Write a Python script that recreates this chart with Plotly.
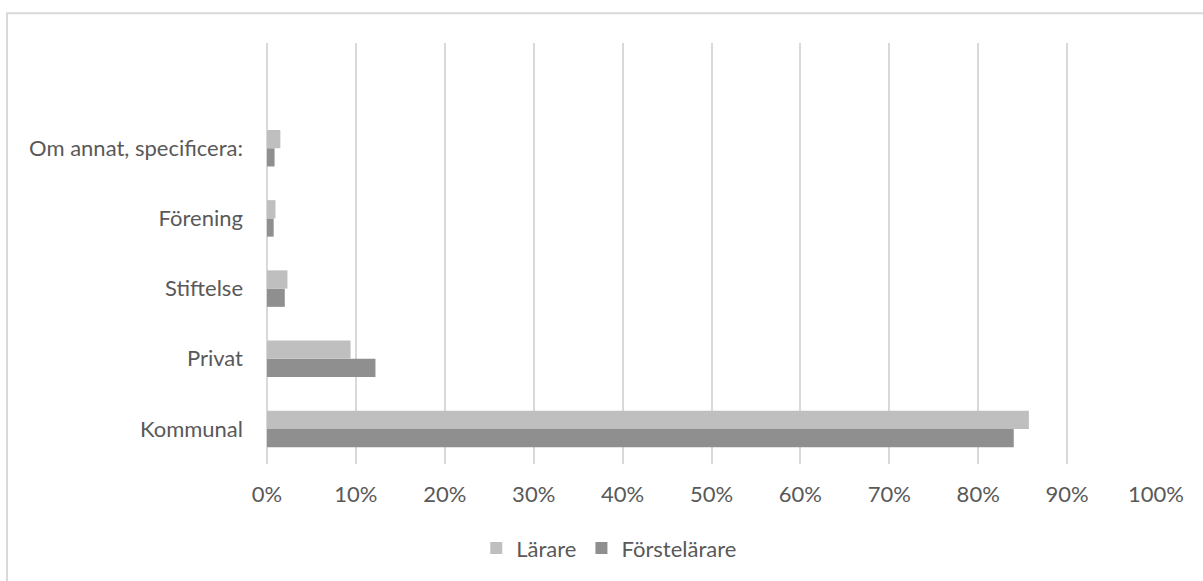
import plotly.graph_objects as go

# Survey categories, listed bottom to top
categories = ["Kommunal", "Privat", "Stiftelse", "Förening", "Om annat, specificera:"]
larare = [85.7, 9.4, 2.3, 0.95, 1.5]
forstelarare = [84.0, 12.2, 2.0, 0.75, 0.85]
x_ticks = [0, 10, 20, 30, 40, 50, 60, 70, 80, 90, 100]
x_tick_labels = [f"{v}%" for v in x_ticks]

positions = list(range(len(categories)))

text_color = "#595959"
grid_color = "#D9D9D9"
font_family = "Lato, 'Open Sans', sans-serif"
font_size = 22

fig = go.Figure()

# Förstelärare is added first so it sits below Lärare in each group
fig.add_trace(go.Bar(
    y=positions, x=forstelarare, orientation="h", name="Förstelärare",
    marker=dict(color="#8F8F8F", line=dict(width=0)), legendrank=2,
))
fig.add_trace(go.Bar(
    y=positions, x=larare, orientation="h", name="Lärare",
    marker=dict(color="#BFBFBF", line=dict(width=0)), legendrank=1,
))

fig.update_layout(
    width=1203, height=581,
    margin=dict(l=267, r=47, t=43, b=114),
    paper_bgcolor="white", plot_bgcolor="white",
    barmode="group", bargap=0.48, bargroupgap=0,
    font=dict(family=font_family, size=font_size, color=text_color),
    showlegend=True,
    legend=dict(
        orientation="h", x=0.385, xanchor="center", y=-0.2, yanchor="middle",
        font=dict(size=font_size, color=text_color), itemwidth=30,
        traceorder="normal",
    ),
    xaxis=dict(
        range=[0, 100], tickvals=x_ticks, ticktext=x_tick_labels,
        showgrid=True, gridcolor=grid_color, gridwidth=1.5,
        zeroline=True, zerolinecolor=grid_color, zerolinewidth=1.5,
        showline=False, ticks="", ticklabelstandoff=15,
        tickfont=dict(size=font_size, color=text_color), fixedrange=True,
    ),
    yaxis=dict(
        range=[-0.5, 5.5], tickvals=positions, ticktext=categories,
        showgrid=False, zeroline=False, showline=False, ticks="",
        ticklabelstandoff=23,
        tickfont=dict(size=font_size, color=text_color), fixedrange=True,
    ),
    shapes=[dict(
        type="rect", xref="paper", yref="paper",
        x0=-0.2925, x1=1.2, y0=-0.5, y1=1.0708,
        line=dict(color=grid_color, width=2), fillcolor="rgba(0,0,0,0)",
        layer="below",
    )],
)

fig.write_html("out.html")
